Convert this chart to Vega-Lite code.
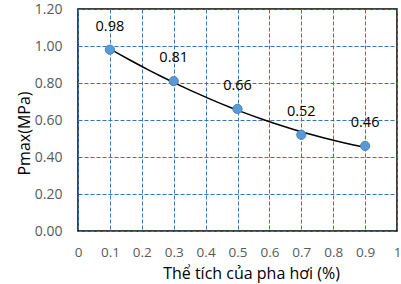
{
  "$schema": "https://vega.github.io/schema/vega-lite/v6.json",
  "width": 319,
  "height": 222,
  "autosize": "none",
  "padding": {"left": 78, "top": 9, "right": 4, "bottom": 53},
  "background": "white",
  "config": {
    "font": "Open Sans",
    "view": {"stroke": "#000000", "strokeWidth": 1.5}
  },
  "data": {
    "values": [
      {"x": 0.1, "p": 0.98},
      {"x": 0.3, "p": 0.81},
      {"x": 0.5, "p": 0.66},
      {"x": 0.7, "p": 0.52},
      {"x": 0.9, "p": 0.46}
    ]
  },
  "encoding": {
    "x": {
      "field": "x",
      "type": "quantitative",
      "scale": {"domain": [0, 1], "nice": false},
      "axis": {
        "title": "Thể tích của pha hơi (%)",
        "values": [0, 0.1, 0.2, 0.3, 0.4, 0.5, 0.6, 0.7, 0.8, 0.9, 1],
        "labelExpr": "format(datum.value, '~g')",
        "domain": false,
        "ticks": false,
        "labelPadding": 14,
        "labelFontSize": 13.5,
        "labelColor": "#595959",
        "labelFlush": false,
        "titleFontSize": 16,
        "titleFontWeight": "normal",
        "titleColor": "#000000",
        "titleX": 173,
        "titleY": 47,
        "titleAlign": "center",
        "titleBaseline": "alphabetic",
        "grid": true,
        "gridColor": "#3a74b8",
        "gridDash": [4, 2],
        "gridWidth": 1
      }
    },
    "y": {
      "field": "p",
      "type": "quantitative",
      "scale": {"domain": [0, 1.2], "nice": false},
      "axis": {
        "title": "Pmax(MPa)",
        "values": [0, 0.2, 0.4, 0.6, 0.8, 1.0, 1.2],
        "format": ".2f",
        "domain": false,
        "ticks": false,
        "labelPadding": 16,
        "labelFontSize": 14,
        "labelColor": "#595959",
        "labelFlush": false,
        "titleFontSize": 16,
        "titleFontWeight": "normal",
        "titleColor": "#000000",
        "titleX": -54,
        "titleY": 124,
        "titleAngle": -90,
        "titleBaseline": "middle",
        "titleAlign": "center",
        "grid": true,
        "gridColor": "#3a74b8",
        "gridDash": [4, 2],
        "gridWidth": 1
      }
    }
  },
  "layer": [
    {
      "transform": [
        {"regression": "p", "on": "x", "method": "poly", "order": 2, "extent": [0.1, 0.9]}
      ],
      "mark": {"type": "line", "color": "#000000", "strokeWidth": 1.5}
    },
    {
      "mark": {"type": "point", "filled": true, "shape": "circle", "size": 85, "color": "#5b9bd5", "stroke": "#4a82c0", "strokeWidth": 1, "opacity": 1}
    },
    {
      "mark": {"type": "text", "dy": -23, "fontSize": 14.5, "color": "#000000"},
      "encoding": {"text": {"field": "p", "type": "quantitative", "format": ".2f"}}
    }
  ]
}
